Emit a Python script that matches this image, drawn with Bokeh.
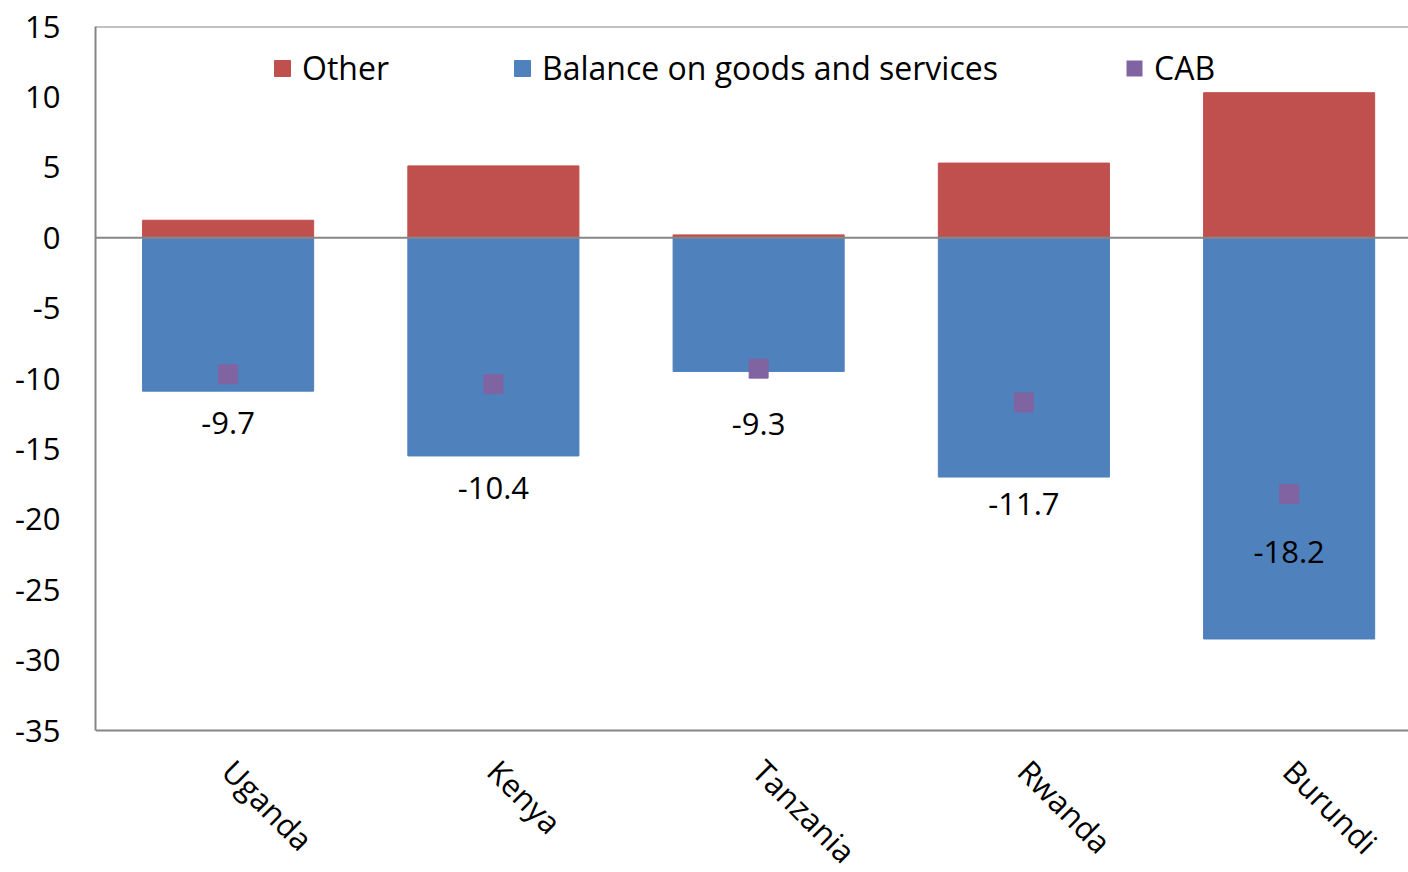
import math
from bokeh.plotting import figure
from bokeh.models import (ColumnDataSource, Range1d, FixedTicker, Span, Legend,
                          LegendItem)
from bokeh.core.properties import value
from bokeh.embed import file_html
from bokeh.resources import INLINE

# ---- data ----
countries = ["Uganda", "Kenya", "Tanzania", "Rwanda", "Burundi"]
other = [1.24, 5.1, 0.2, 5.3, 10.3]
balance = [-10.9, -15.5, -9.5, -17.0, -28.5]
cab = [-9.7, -10.4, -9.3, -11.7, -18.2]
y_ticks = [15, 10, 5, 0, -5, -10, -15, -20, -25, -30, -35]
Y_MIN, Y_MAX = -35, 15

# layout of the value labels (data units, placed by hand in the original)
label_y = [-13.15, -17.8, -13.2, -18.9, -22.3]

FONT = "Open Sans"
FS = "31px"
GRAY = "#868686"
RED = "#C0504D"
BLUE = "#4F81BD"
PURPLE = "#8064A2"

xs = [i + 1 for i in range(len(countries))]
src = ColumnDataSource(dict(
    x=xs, other=other, balance=balance, cab=cab, label_y=label_y,
    label=[f"{v:.1f}" for v in cab], zero=[0] * len(xs), country=countries,
))

# the frame runs down to the bottom of the canvas so that the rotated
# category labels (drawn below y = -35) are not clipped
FRAME_TOP, AXIS_BOTTOM_PX, CANVAS_H = 26, 730, 872
px_per_unit = (AXIS_BOTTOM_PX - FRAME_TOP) / (Y_MAX - Y_MIN)
y_start = Y_MAX - (CANVAS_H - FRAME_TOP) / px_per_unit

p = figure(width=1408, height=CANVAS_H, output_backend="svg", toolbar_location=None,
           x_range=Range1d(0.5, 5.45), y_range=Range1d(y_start, Y_MAX),
           min_border_left=95, min_border_right=0, min_border_top=FRAME_TOP,
           min_border_bottom=0)
p.outline_line_color = None
p.grid.visible = False
p.background_fill_color = "white"
p.border_fill_color = "white"
p.xaxis.visible = False

r_other = p.vbar(x="x", top="other", bottom="zero", width=0.645, source=src,
                 fill_color=RED, line_color=RED)
r_bal = p.vbar(x="x", top="zero", bottom="balance", width=0.645, source=src,
               fill_color=BLUE, line_color=BLUE)

p.add_layout(Span(location=0, dimension="width", line_color=GRAY, line_width=2))
p.add_layout(Span(location=Y_MAX, dimension="width", line_color=GRAY, line_width=2))
p.add_layout(Span(location=Y_MIN, dimension="width", line_color=GRAY, line_width=2))

r_cab = p.scatter(x="x", y="cab", source=src, marker="square", size=19,
                  fill_color=PURPLE, line_color=PURPLE)

p.text(x="x", y="label_y", text="label", source=src, text_align="center",
       text_baseline="middle", text_font_size=FS, text_color="black",
       text_font=value(FONT))

# rotated category labels below the bottom axis line
p.text(x="x", y=Y_MIN, text="country", source=src, angle=-math.pi / 4,
       text_align="left", text_baseline="top", x_offset=15, y_offset=20,
       text_font_size=FS, text_color="black", text_font=value(FONT))

# zero-height bars used only as the CAB legend swatch
r_cab_leg = p.vbar(x="x", top="zero", bottom="zero", width=0.5, source=src,
                   fill_color=PURPLE, line_color=None)

# y axis
yax = p.yaxis[0]
yax.bounds = (Y_MIN, Y_MAX)
yax.ticker = FixedTicker(ticks=y_ticks)
yax.major_label_overrides = {t: str(t) for t in y_ticks}
yax.axis_line_color = GRAY
yax.axis_line_width = 2
yax.major_tick_line_color = None
yax.minor_tick_line_color = None
yax.major_tick_out = 0
yax.major_label_standoff = 35
yax.major_label_text_font = FONT
yax.major_label_text_font_size = FS
yax.major_label_text_color = "black"

frame_h = CANVAS_H - FRAME_TOP
leg_y = frame_h - 63

def mk_legend(label, renderer, x):
    lg = Legend(items=[LegendItem(label=label, renderers=[renderer])],
                location=(x, leg_y), orientation="horizontal",
                glyph_width=20, glyph_height=20, label_standoff=10,
                padding=0, margin=0, spacing=0,
                border_line_color=None, background_fill_alpha=0,
                label_text_font=FONT, label_text_font_size="32px",
                label_text_color="black")
    p.add_layout(lg)

mk_legend("Other", r_other, 177)
mk_legend("Balance on goods and services", r_bal, 417)
mk_legend("CAB", r_cab_leg, 1029)

open("out.html", "w").write(file_html(p, INLINE))
